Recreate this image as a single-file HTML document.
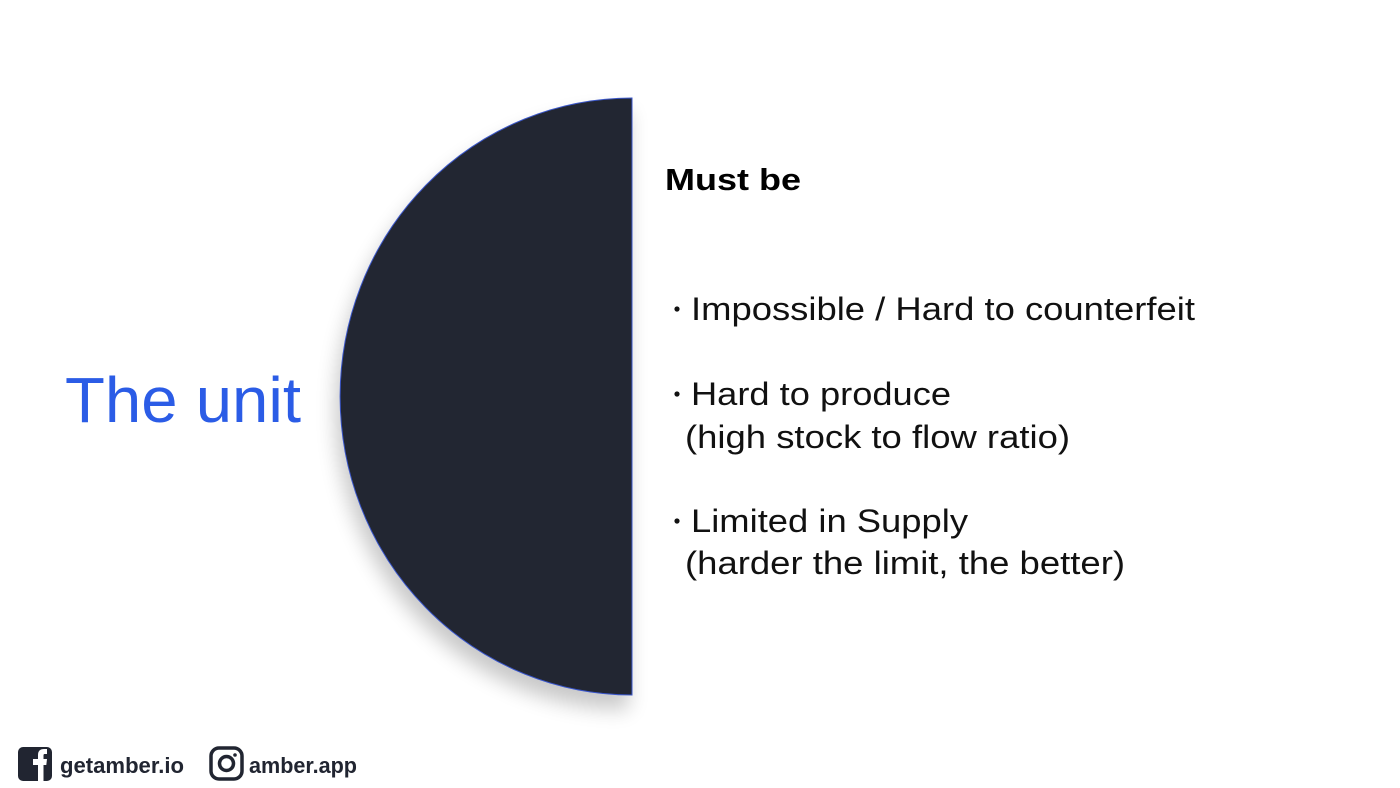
<!DOCTYPE html>
<html><head><meta charset="utf-8"><style>
html,body{margin:0;padding:0;background:#fff;}
svg{display:block;}
</style></head><body>
<svg width="1400" height="788" viewBox="0 0 1400 788" xmlns="http://www.w3.org/2000/svg" font-family="Liberation Sans, Arial, sans-serif">
<defs>
<filter id="sh" x="-30%" y="-20%" width="160%" height="150%">
<feGaussianBlur in="SourceAlpha" stdDeviation="10"/>
<feOffset dx="-4" dy="14"/>
<feComponentTransfer><feFuncA type="linear" slope="0.22"/></feComponentTransfer>
<feMerge><feMergeNode/><feMergeNode in="SourceGraphic"/></feMerge>
</filter>
</defs>
<rect width="1400" height="788" fill="#fff"/>
<path d="M632 98 A292 298.5 0 0 0 632 695 Z" fill="#212531" stroke="#3a56c8" stroke-width="1" filter="url(#sh)"/>
<text x="65" y="422" font-size="64" fill="#2b5ce6" textLength="236" lengthAdjust="spacingAndGlyphs">The unit</text>
<text x="665" y="190" font-size="31" font-weight="bold" fill="#000" textLength="136" lengthAdjust="spacingAndGlyphs">Must be</text>
<g font-size="32" fill="#111">
<circle cx="677" cy="309" r="2.6"/>
<text x="691" y="320" textLength="504" lengthAdjust="spacingAndGlyphs">Impossible / Hard to counterfeit</text>
<circle cx="677" cy="394" r="2.6"/>
<text x="691" y="405" textLength="260" lengthAdjust="spacingAndGlyphs">Hard to produce</text>
<text x="685" y="448" textLength="385" lengthAdjust="spacingAndGlyphs">(high stock to flow ratio)</text>
<circle cx="677" cy="521" r="2.6"/>
<text x="691" y="532" textLength="277" lengthAdjust="spacingAndGlyphs">Limited in Supply</text>
<text x="685" y="574" textLength="440" lengthAdjust="spacingAndGlyphs">(harder the limit, the better)</text>
</g>
<rect x="18" y="747" width="34" height="34" rx="5" fill="#212531"/>
<path d="M38 781 V765 H33 V759 H38 V755 Q38 749 44 749 H47 V754 H44.5 Q43.5 754 43.5 755.5 V759 H47 L46.3 765 H43.5 V781 Z" fill="#fff"/>
<text x="60" y="773" font-size="22" font-weight="bold" fill="#212531" textLength="124" lengthAdjust="spacingAndGlyphs">getamber.io</text>
<rect x="211" y="748" width="31" height="31" rx="8" fill="none" stroke="#212531" stroke-width="3.5"/>
<circle cx="226.5" cy="763.5" r="7" fill="none" stroke="#212531" stroke-width="3.5"/>
<circle cx="235" cy="755" r="1.8" fill="#212531"/>
<text x="249" y="773" font-size="22" font-weight="bold" fill="#212531" textLength="108" lengthAdjust="spacingAndGlyphs">amber.app</text>
</svg>
</body></html>
